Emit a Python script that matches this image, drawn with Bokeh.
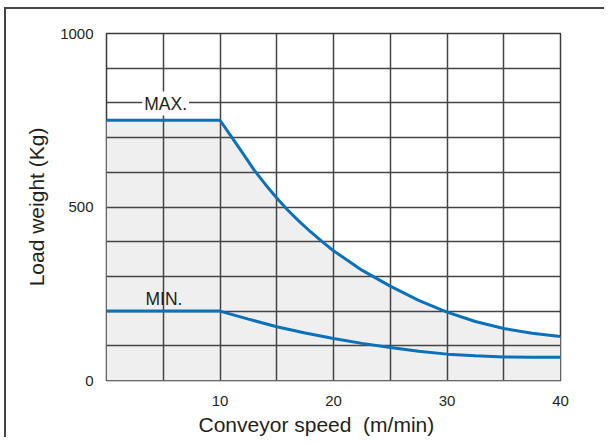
from bokeh.plotting import figure
from bokeh.models import Range1d, FixedTicker, Label, Title
from bokeh.embed import file_html
from bokeh.resources import INLINE

# Data
max_speed = [0, 10, 11, 12, 13, 14, 15, 16, 17, 18, 19, 20, 22.5, 25, 27.5, 30, 32.5, 35, 37.5, 40]
max_load = [750, 750, 703, 655, 607, 565, 526, 490, 458, 428, 400, 374, 318, 272, 231, 197, 170, 150, 136, 127]
min_speed = [0, 10, 12.5, 15, 17.5, 20, 22.5, 25, 27.5, 30, 32.5, 35, 37.5, 40]
min_load = [200, 200, 177, 155, 137, 121, 107, 95, 84, 76, 71, 68, 67, 67]
x_ticks = [10, 20, 30, 40]
y_ticks = [0, 500, 1000]
x_grid = [5, 10, 15, 20, 25, 30, 35]
y_grid = [100, 200, 300, 400, 500, 600, 700, 800, 900]

FONT = "Liberation Sans"
TXT = "#231f20"
BLUE = "#0b72b9"
GRID = "#444444"

p = figure(width=604, height=437, x_range=Range1d(0, 40), y_range=Range1d(0, 1000),
           output_backend="svg", toolbar_location=None,
           min_border_left=106, min_border_top=33, min_border_right=44, min_border_bottom=56)
p.styles = {
    "background": "linear-gradient(#444444, #444444) 4px 7px / 2px 100% no-repeat, "
                  "linear-gradient(#444444, #444444) 4px 7px / 100% 2px no-repeat, white"
}
p.border_fill_color = None
p.background_fill_color = "white"
p.outline_line_color = "#3a3a3a"
p.outline_line_width = 1.5

# fill under MAX curve
fill = p.varea(x=max_speed, y1=0, y2=max_load, fill_color="#efefef")
fill.level = "image"

p.line(max_speed, max_load, line_color=BLUE, line_width=3)
p.line(min_speed, min_load, line_color=BLUE, line_width=3)

# axes
p.xaxis.ticker = FixedTicker(ticks=x_ticks)
p.yaxis.ticker = FixedTicker(ticks=y_ticks)
p.xgrid.ticker = FixedTicker(ticks=x_grid)
p.ygrid.ticker = FixedTicker(ticks=y_grid)
for g in (p.xgrid, p.ygrid):
    g.grid_line_color = GRID
    g.grid_line_width = 1.5
for ax in (p.xaxis, p.yaxis):
    ax.axis_line_color = None
    ax.major_tick_line_color = None
    ax.minor_tick_line_color = None
    ax.major_label_text_font = FONT
    ax.major_label_text_font_size = "15px"
    ax.major_label_text_color = TXT
p.xaxis.major_label_standoff = 9
p.yaxis.major_label_standoff = 7
p.yaxis.axis_label = "Load weight (Kg)"
p.yaxis.axis_label_text_font = FONT
p.yaxis.axis_label_text_font_size = "21px"
p.yaxis.axis_label_text_font_style = "normal"
p.yaxis.axis_label_text_color = TXT
p.yaxis.axis_label_standoff = 9

p.add_layout(Title(text="Conveyor speed\u00a0 (m/min)", align="left", offset=92, standoff=4,
                   text_font=FONT, text_font_size="21px", text_font_style="normal",
                   text_color=TXT), "below")
p.add_layout(Label(x=3.15, y=798, text="MAX.", text_align="left", text_baseline="alphabetic",
                   text_font=FONT, text_font_size="17.5px", text_color=TXT,
                   background_fill_color="white", padding=2))
p.add_layout(Label(x=3.44, y=236, text="MIN.", text_align="left", text_baseline="alphabetic",
                   text_font=FONT, text_font_size="17.5px", text_color=TXT))

open("out.html", "w").write(file_html(p, INLINE))
